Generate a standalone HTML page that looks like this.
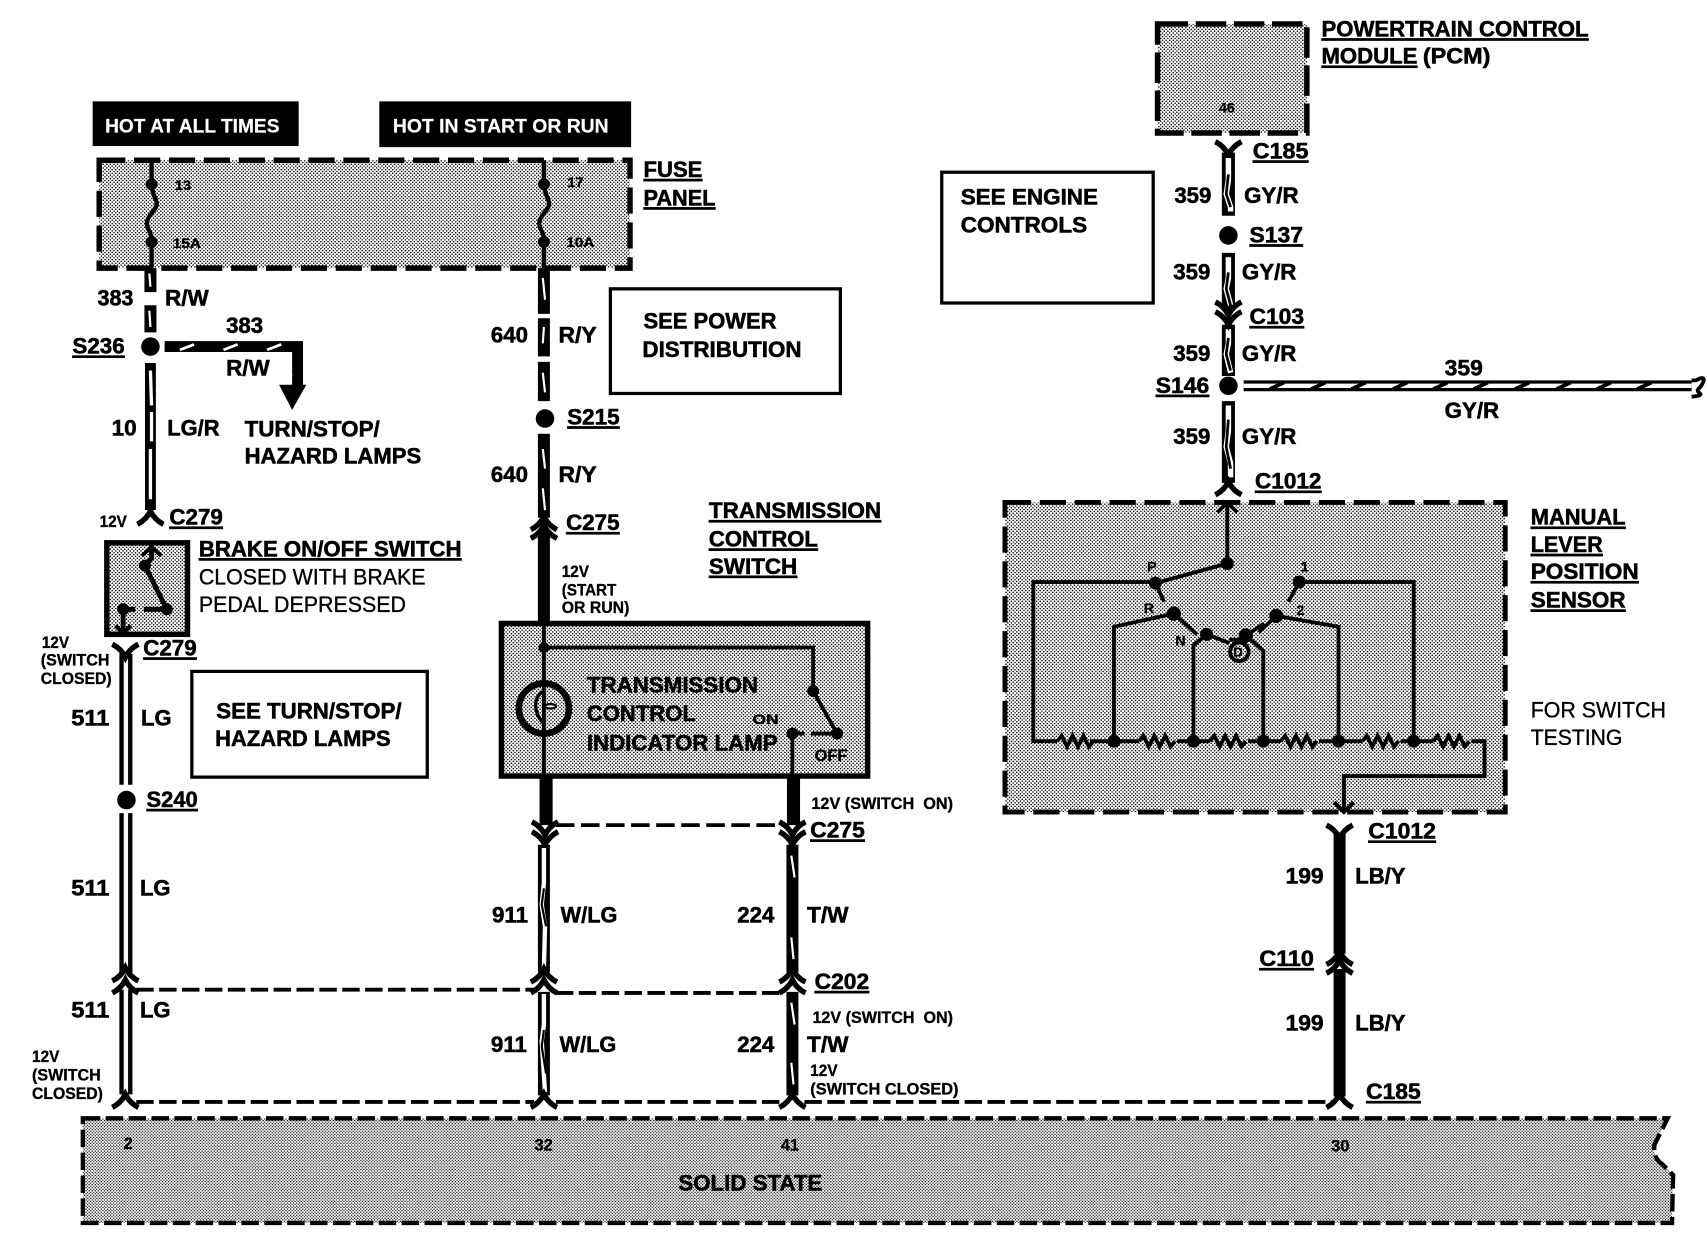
<!DOCTYPE html>
<html><head><meta charset="utf-8"><style>
html,body{margin:0;padding:0;background:#fff}
svg{display:block}
text{font-family:"Liberation Sans",sans-serif;font-weight:bold;fill:#000;stroke:#000;stroke-width:.5;font-size:20px}
.s{font-size:15px;stroke-width:.3}
.t{font-size:13px;stroke-width:.3}
.u{text-decoration:underline}
.w{fill:#fff;stroke:#fff;stroke-width:.2}
.k{fill:none;stroke:#000;stroke-linejoin:miter}
.wh{fill:none;stroke:#fff}
</style></head><body>
<svg xmlns="http://www.w3.org/2000/svg" width="1708" height="1248" viewBox="0 0 1567 1145">
<defs>
<pattern id="h" patternUnits="userSpaceOnUse" width="3.3" height="3.3"><rect width="3.3" height="3.3" fill="#fff"/><rect width="1.25" height="1.25" fill="#000"/><rect x="1.65" y="1.65" width="1.25" height="1.25" fill="#000"/></pattern>
<pattern id="h2" patternUnits="userSpaceOnUse" width="2.8" height="2.8"><rect width="2.8" height="2.8" fill="#fff"/><rect width="1.15" height="1.05" fill="#000"/><rect x="1.4" y="1.4" width="1.15" height="1.05" fill="#000"/></pattern>
<path id="zz" d="M0 0l4 -5l5 10l5 -10l5 10l5 -10l5 10l4 -5" fill="none" stroke="#000" stroke-width="3.5"/>
<path id="fd" d="M-12 -7Q-4 -3 0 5Q4 -3 12 -7" fill="none" stroke="#000" stroke-width="5"/>
<path id="fu" d="M-12 7Q-4 3 0 -5Q4 3 12 7" fill="none" stroke="#000" stroke-width="5"/>
</defs>
<rect width="1567" height="1145" fill="#fff"/>

<!-- shaded boxes -->
<rect x="91" y="147" width="487" height="99" fill="url(#h)"/>
<rect x="98" y="498" width="74" height="84" fill="url(#h)"/>
<rect x="460" y="572" width="336" height="140" fill="url(#h)"/>
<rect x="1062" y="22" width="137" height="100" fill="url(#h)"/>
<rect x="922" y="461" width="459" height="284" fill="url(#h)"/>
<path d="M76 1026H1530L1518 1050Q1516 1062 1525 1068L1535 1078L1534 1122H76Z" fill="url(#h2)"/>

<!-- borders -->
<rect x="91" y="147" width="487" height="99" class="k" stroke-width="5" stroke-dasharray="24 8"/>
<rect x="98" y="498" width="74" height="84" class="k" stroke-width="5"/>
<rect x="460" y="572" width="336" height="140" class="k" stroke-width="5"/>
<rect x="1062" y="22" width="137" height="100" class="k" stroke-width="5" stroke-dasharray="28 7"/>
<rect x="922" y="461" width="459" height="284" class="k" stroke-width="4.5" stroke-dasharray="24 8"/>
<path d="M76 1026H1530L1518 1050Q1516 1062 1525 1068L1535 1078L1534 1122H76Z" class="k" stroke-width="4" stroke-dasharray="16 5"/>
<rect x="176" y="616" width="216" height="97" class="k" stroke-width="3"/>
<rect x="560" y="265" width="211" height="96" class="k" stroke-width="3"/>
<rect x="864" y="158" width="194" height="120" class="k" stroke-width="3"/>
<rect x="85" y="93" width="189" height="41" fill="#000"/>
<rect x="348" y="93" width="231" height="42" fill="#000"/>

<!-- fuses -->
<path d="M139 147V168M139 222V246M139 168C139 180 146 184 143 190C138 198 132 202 136 210C138 214 139 216 139 222" class="k" stroke-width="4"/>
<path d="M499 147V168M499 222V246M499 168C499 180 506 184 503 190C498 198 492 202 496 210C498 214 499 216 499 222" class="k" stroke-width="4"/>
<circle cx="139" cy="169" r="5.5"/><circle cx="139" cy="222" r="5.5"/><circle cx="499" cy="169" r="5.5"/><circle cx="499" cy="222" r="5.5"/>

<!-- left column wires -->
<path d="M138 246V268M138 280V305" class="k" stroke-width="11"/>
<path d="M137 251L138 263M137 285L138 300" class="wh" stroke-width="2"/>
<circle cx="138" cy="318" r="8.5"/>
<path d="M151 318H273V355" class="k" stroke-width="10"/>
<path d="M165 321L178 316M205 321L218 316M245 321L258 316M264 328L267 345" class="wh" stroke-width="2.5"/>
<path d="M256 353H281L268 376Z"/>
<path d="M138 333V468" class="k" stroke-width="10"/>
<path d="M138 340L139 372M139 378V405M138 412V458" class="wh" stroke-width="3"/>
<use href="#fu" x="138" y="474"/>
<!-- brake switch internals -->
<path d="M139 500V512L133 519L153 559M113 559H124M132 559H153M113 559V578" class="k" stroke-width="4.5"/>
<path d="M130 510L139 502L148 510M106 574L113 581L120 574" class="k" stroke-width="3.5"/>
<circle cx="133" cy="519" r="5.5"/><circle cx="153" cy="559" r="5.5"/><circle cx="113" cy="559" r="5.5"/>

<use href="#fd" x="115" y="598"/>
<path d="M111.5 600V720M119.5 600V720M111.5 746V893M119.5 746V893M111.5 908V1004M119.5 908V1004" class="k" stroke-width="4"/>
<circle cx="116" cy="734" r="8.5"/>
<use href="#fu" x="115" y="893"/><use href="#fu" x="115" y="904"/>
<use href="#fu" x="115" y="1009"/>

<!-- middle wire -->
<path d="M499 246V288M499 292V327M499 332V368" class="k" stroke-width="11"/>
<path d="M498 255L500 275M499 300L498 315M498 342L500 360" class="wh" stroke-width="2"/>
<circle cx="500" cy="384" r="8.5"/>
<path d="M499 398V475" class="k" stroke-width="11"/>
<path d="M498 412L500 430M498 448L500 468" class="wh" stroke-width="2"/>
<use href="#fu" x="499" y="479"/><use href="#fu" x="499" y="487"/>
<path d="M499 486V572" class="k" stroke-width="11"/>

<!-- lamp box internals -->
<path d="M499 572V712M499 594H746V634M746 634L768 673M727 673H738M744 673H768M727 673V712" class="k" stroke-width="3.5"/>
<circle cx="499" cy="594" r="5"/><circle cx="746" cy="634" r="5.5"/><circle cx="768" cy="673" r="5.5"/><circle cx="727" cy="673" r="5.5"/>
<circle cx="499" cy="650" r="23" fill="none" stroke="#000" stroke-width="6"/>
<path d="M499 634C488 640 490 655 499 664" class="k" stroke-width="3"/>
<ellipse cx="505" cy="648" rx="5" ry="2" fill="#fff" stroke="#000" stroke-width="2"/>

<path d="M501 712V757M728 712V757" class="k" stroke-width="12"/>
<path d="M510 757H722" class="k" stroke-width="3.5" stroke-dasharray="17 6"/>
<use href="#fd" x="500" y="761"/><use href="#fd" x="500" y="770"/>
<use href="#fd" x="727" y="761"/><use href="#fd" x="727" y="770"/>
<path d="M499 775V892M499 910V1005" class="k" stroke-width="11"/>
<path d="M499 778V810L497 830L500 850L499 888M499 912V940L497 955L500 1002" class="wh" stroke-width="4"/>
<path d="M499 815L497 830L501 850M499 945L497 960L501 985" class="k" stroke-width="2"/>
<path d="M727 775V892M727 910V1005" class="k" stroke-width="11"/>
<path d="M726 785L729 805M726 860L728 880M726 920L729 940M726 975L728 995" class="wh" stroke-width="2"/>
<use href="#fu" x="499" y="894"/><use href="#fu" x="499" y="904"/>
<use href="#fu" x="727" y="894"/><use href="#fu" x="727" y="904"/>
<use href="#fu" x="499" y="1009"/><use href="#fu" x="727" y="1009"/>
<path d="M125 908H490M510 911H716M125 1011H490M510 1011H716M738 1011H1222" class="k" stroke-width="3.5" stroke-dasharray="16 5"/>

<!-- right top wire -->
<use href="#fd" x="1127" y="137"/>
<path d="M1127 140V198M1127 232V285M1127 298V345M1127 368V443" class="k" stroke-width="12"/>
<path d="M1127 145V165L1125 178L1129 190V194M1127 236V255L1125 265L1129 280M1127 302V315L1125 325L1129 342M1127 372V395L1125 410L1129 425V438" class="wh" stroke-width="5"/>
<path d="M1127 160L1125 178L1129 190M1127 250L1125 265L1129 280M1127 310L1125 325L1129 340M1127 385L1125 410L1129 430" class="k" stroke-width="2.5"/>
<circle cx="1127" cy="216" r="8.5"/>
<circle cx="1127" cy="354" r="8.5"/>
<use href="#fd" x="1127" y="284"/><use href="#fd" x="1127" y="293"/>
<use href="#fu" x="1127" y="447"/>
<path d="M1141 354H1552" class="k" stroke-width="10"/>
<path d="M1141 354H1552" class="wh" stroke-width="4"/>
<path d="M1165 357L1178 351M1203 357L1216 351M1240 357L1253 351M1278 357L1291 351M1315 357L1328 351M1352 357L1365 351M1390 357L1403 351M1428 357L1441 351M1465 357L1478 351M1502 357L1515 351" class="k" stroke-width="3.5"/>
<path d="M1552 349H1556C1568 342 1562 354 1558 357C1555 361 1568 362 1552 364" class="k" stroke-width="3.5"/>

<!-- sensor internals -->
<path d="M1126 461V517L1060 535M1060 534H948V680H970M1000 680H1045M1080 680H1110M1145 680H1175M1210 680H1250M1285 680H1315M1350 680H1362V712H1233V745" class="k" stroke-width="3.5"/>
<path d="M1117 470L1126 461L1135 470M1224 736L1233 745L1242 736" class="k" stroke-width="3.5"/>
<use href="#zz" x="970" y="680"/><use href="#zz" x="1045" y="680" /><use href="#zz" x="1110" y="680"/><use href="#zz" x="1175" y="680"/><use href="#zz" x="1250" y="680"/><use href="#zz" x="1315" y="680"/>
<path d="M1077 563L1022 575V680M1107 582L1095 592V680M1143 583L1159 597V680M1171 565L1228 575V680M1192 534H1297V680" class="k" stroke-width="3.5"/>
<path d="M1060 535L1068 552M1077 563L1098 582M1107 582L1128 590M1143 583L1160 572M1171 565L1155 580M1192 534L1182 552M1128 587H1143" class="k" stroke-width="3.5"/>
<circle cx="1060" cy="535" r="6"/><circle cx="1126" cy="517" r="6"/><circle cx="1077" cy="563" r="6.5"/><circle cx="1107" cy="582" r="6"/><circle cx="1143" cy="583" r="6.5"/><circle cx="1171" cy="565" r="6.5"/><circle cx="1192" cy="534" r="6"/>
<circle cx="1022" cy="680" r="6"/><circle cx="1095" cy="680" r="6"/><circle cx="1159" cy="680" r="6"/><circle cx="1228" cy="680" r="6"/><circle cx="1297" cy="680" r="6"/>
<circle cx="1137" cy="598" r="8.5" fill="none" stroke="#000" stroke-width="3.5"/>

<!-- right lower wire -->
<use href="#fd" x="1229" y="764"/>
<path d="M1229 764V875M1229 889V1006" class="k" stroke-width="11"/>
<use href="#fu" x="1229" y="878"/><use href="#fu" x="1229" y="886"/>
<use href="#fu" x="1229" y="1009"/>

<!-- labels -->
<g transform="translate(-0.6,-0.6)">
<text class="w" x="97" y="122" textLength="160" lengthAdjust="spacingAndGlyphs" style="font-size:18px">HOT AT ALL TIMES</text>
<text class="w" x="361" y="122" textLength="198" lengthAdjust="spacingAndGlyphs" style="font-size:18px">HOT IN START OR RUN</text>
<text class="t" x="161" y="175" textLength="15" lengthAdjust="spacingAndGlyphs">13</text>
<text class="t" x="159" y="228" textLength="26" lengthAdjust="spacingAndGlyphs">15A</text>
<text class="t" x="521" y="172" textLength="15" lengthAdjust="spacingAndGlyphs">17</text>
<text class="t" x="520" y="227" textLength="26" lengthAdjust="spacingAndGlyphs">10A</text>
<text class="u" x="591" y="163" textLength="54" lengthAdjust="spacingAndGlyphs">FUSE</text>
<text class="u" x="591" y="189" textLength="66" lengthAdjust="spacingAndGlyphs">PANEL</text>
<text x="90" y="281" textLength="33" lengthAdjust="spacingAndGlyphs">383</text>
<text x="152" y="281" textLength="40" lengthAdjust="spacingAndGlyphs">R/W</text>
<text class="u" x="67" y="325" textLength="48" lengthAdjust="spacingAndGlyphs">S236</text>
<text x="208" y="306" textLength="34" lengthAdjust="spacingAndGlyphs">383</text>
<text x="208" y="345" textLength="40" lengthAdjust="spacingAndGlyphs">R/W</text>
<text x="103" y="400" textLength="23" lengthAdjust="spacingAndGlyphs">10</text>
<text x="154" y="400" textLength="48" lengthAdjust="spacingAndGlyphs">LG/R</text>
<text x="225" y="401" textLength="124" lengthAdjust="spacingAndGlyphs">TURN/STOP/</text>
<text x="225" y="426" textLength="162" lengthAdjust="spacingAndGlyphs">HAZARD LAMPS</text>
<text class="s" x="92" y="484" textLength="25" lengthAdjust="spacingAndGlyphs">12V</text>
<text class="u" x="156" y="482" textLength="49" lengthAdjust="spacingAndGlyphs">C279</text>
<text class="u" x="183" y="511" textLength="241" lengthAdjust="spacingAndGlyphs">BRAKE ON/OFF SWITCH</text>
<text x="183" y="537" textLength="208" lengthAdjust="spacingAndGlyphs" style="stroke-width:.3;font-weight:normal">CLOSED WITH BRAKE</text>
<text x="183" y="562" textLength="190" lengthAdjust="spacingAndGlyphs" style="stroke-width:.3;font-weight:normal">PEDAL DEPRESSED</text>
<text class="s" x="39" y="595" textLength="25" lengthAdjust="spacingAndGlyphs">12V</text>
<text class="s" x="38" y="611" textLength="63" lengthAdjust="spacingAndGlyphs">(SWITCH</text>
<text class="s" x="38" y="628" textLength="65" lengthAdjust="spacingAndGlyphs">CLOSED)</text>
<text class="u" x="132" y="602" textLength="49" lengthAdjust="spacingAndGlyphs">C279</text>
<text x="66" y="666" textLength="35" lengthAdjust="spacingAndGlyphs">511</text>
<text x="130" y="666" textLength="28" lengthAdjust="spacingAndGlyphs">LG</text>
<text class="u" x="135" y="741" textLength="47" lengthAdjust="spacingAndGlyphs">S240</text>
<text x="66" y="822" textLength="35" lengthAdjust="spacingAndGlyphs">511</text>
<text x="129" y="822" textLength="28" lengthAdjust="spacingAndGlyphs">LG</text>
<text x="66" y="934" textLength="35" lengthAdjust="spacingAndGlyphs">511</text>
<text x="129" y="934" textLength="28" lengthAdjust="spacingAndGlyphs">LG</text>
<text class="s" x="30" y="975" textLength="25" lengthAdjust="spacingAndGlyphs">12V</text>
<text class="s" x="30" y="992" textLength="63" lengthAdjust="spacingAndGlyphs">(SWITCH</text>
<text class="s" x="30" y="1009" textLength="65" lengthAdjust="spacingAndGlyphs">CLOSED)</text>
<text x="199" y="660" textLength="170" lengthAdjust="spacingAndGlyphs">SEE TURN/STOP/</text>
<text x="198" y="685" textLength="161" lengthAdjust="spacingAndGlyphs">HAZARD LAMPS</text>
<text x="451" y="315" textLength="34" lengthAdjust="spacingAndGlyphs">640</text>
<text x="513" y="315" textLength="35" lengthAdjust="spacingAndGlyphs">R/Y</text>
<text class="u" x="521" y="390" textLength="48" lengthAdjust="spacingAndGlyphs">S215</text>
<text x="451" y="443" textLength="34" lengthAdjust="spacingAndGlyphs">640</text>
<text x="513" y="443" textLength="35" lengthAdjust="spacingAndGlyphs">R/Y</text>
<text class="u" x="520" y="487" textLength="49" lengthAdjust="spacingAndGlyphs">C275</text>
<text class="s" x="516" y="530" textLength="25" lengthAdjust="spacingAndGlyphs">12V</text>
<text class="s" x="516" y="547" textLength="50" lengthAdjust="spacingAndGlyphs">(START</text>
<text class="s" x="516" y="563" textLength="62" lengthAdjust="spacingAndGlyphs">OR RUN)</text>
<text x="591" y="302" textLength="122" lengthAdjust="spacingAndGlyphs">SEE POWER</text>
<text x="590" y="328" textLength="146" lengthAdjust="spacingAndGlyphs">DISTRIBUTION</text>
<text class="u" x="651" y="476" textLength="158" lengthAdjust="spacingAndGlyphs">TRANSMISSION</text>
<text class="u" x="651" y="502" textLength="100" lengthAdjust="spacingAndGlyphs">CONTROL</text>
<text class="u" x="651" y="527" textLength="81" lengthAdjust="spacingAndGlyphs">SWITCH</text>
<text x="539" y="636" textLength="157" lengthAdjust="spacingAndGlyphs">TRANSMISSION</text>
<text x="539" y="662" textLength="100" lengthAdjust="spacingAndGlyphs">CONTROL</text>
<text x="539" y="689" textLength="175" lengthAdjust="spacingAndGlyphs">INDICATOR LAMP</text>
<text class="t" x="691" y="665" textLength="24" lengthAdjust="spacingAndGlyphs">ON</text>
<text class="s" x="748" y="699" textLength="30" lengthAdjust="spacingAndGlyphs">OFF</text>
<text class="s" x="745" y="743" textLength="130" lengthAdjust="spacingAndGlyphs" xml:space="preserve">12V (SWITCH  ON)</text>
<text class="u" x="744" y="769" textLength="50" lengthAdjust="spacingAndGlyphs">C275</text>
<text x="452" y="847" textLength="33" lengthAdjust="spacingAndGlyphs">911</text>
<text x="515" y="847" textLength="52" lengthAdjust="spacingAndGlyphs">W/LG</text>
<text x="677" y="847" textLength="34" lengthAdjust="spacingAndGlyphs">224</text>
<text x="741" y="847" textLength="38" lengthAdjust="spacingAndGlyphs">T/W</text>
<text class="u" x="748" y="908" textLength="50" lengthAdjust="spacingAndGlyphs">C202</text>
<text class="s" x="746" y="939" textLength="129" lengthAdjust="spacingAndGlyphs" xml:space="preserve">12V (SWITCH  ON)</text>
<text x="451" y="966" textLength="33" lengthAdjust="spacingAndGlyphs">911</text>
<text x="514" y="966" textLength="52" lengthAdjust="spacingAndGlyphs">W/LG</text>
<text x="677" y="966" textLength="34" lengthAdjust="spacingAndGlyphs">224</text>
<text x="741" y="966" textLength="38" lengthAdjust="spacingAndGlyphs">T/W</text>
<text class="s" x="744" y="988" textLength="25" lengthAdjust="spacingAndGlyphs">12V</text>
<text class="s" x="744" y="1005" textLength="136" lengthAdjust="spacingAndGlyphs">(SWITCH CLOSED)</text>
<text class="s" x="114" y="1055">2</text>
<text class="s" x="491" y="1056">32</text>
<text class="s" x="717" y="1056">41</text>
<text class="s" x="1222" y="1057">30</text>
<text x="623" y="1093" textLength="132" lengthAdjust="spacingAndGlyphs">SOLID STATE</text>
<text class="u" x="1254" y="1009" textLength="50" lengthAdjust="spacingAndGlyphs">C185</text>
<text class="u" x="1213" y="34" textLength="245" lengthAdjust="spacingAndGlyphs">POWERTRAIN CONTROL</text>
<text class="u" x="1213" y="59" textLength="88" lengthAdjust="spacingAndGlyphs">MODULE</text>
<text x="1306" y="59" textLength="62" lengthAdjust="spacingAndGlyphs">(PCM)</text>
<text class="t" x="1119" y="104">46</text>
<text class="u" x="1150" y="146" textLength="51" lengthAdjust="spacingAndGlyphs">C185</text>
<text x="1078" y="187" textLength="34" lengthAdjust="spacingAndGlyphs">359</text>
<text x="1142" y="187" textLength="50" lengthAdjust="spacingAndGlyphs">GY/R</text>
<text class="u" x="1147" y="223" textLength="49" lengthAdjust="spacingAndGlyphs">S137</text>
<text x="1077" y="257" textLength="34" lengthAdjust="spacingAndGlyphs">359</text>
<text x="1140" y="257" textLength="50" lengthAdjust="spacingAndGlyphs">GY/R</text>
<text class="u" x="1147" y="298" textLength="50" lengthAdjust="spacingAndGlyphs">C103</text>
<text x="1077" y="332" textLength="34" lengthAdjust="spacingAndGlyphs">359</text>
<text x="1140" y="332" textLength="50" lengthAdjust="spacingAndGlyphs">GY/R</text>
<text class="u" x="1061" y="361" textLength="49" lengthAdjust="spacingAndGlyphs">S146</text>
<text x="1326" y="345" textLength="35" lengthAdjust="spacingAndGlyphs">359</text>
<text x="1326" y="384" textLength="50" lengthAdjust="spacingAndGlyphs">GY/R</text>
<text x="1077" y="408" textLength="34" lengthAdjust="spacingAndGlyphs">359</text>
<text x="1140" y="408" textLength="50" lengthAdjust="spacingAndGlyphs">GY/R</text>
<text class="u" x="1152" y="449" textLength="61" lengthAdjust="spacingAndGlyphs">C1012</text>
<text x="882" y="188" textLength="126" lengthAdjust="spacingAndGlyphs">SEE ENGINE</text>
<text x="882" y="214" textLength="116" lengthAdjust="spacingAndGlyphs">CONTROLS</text>
<text class="t" x="1053" y="525">P</text>
<text class="t" x="1050" y="563">R</text>
<text class="t" x="1079" y="593">N</text>
<text class="t" x="1194" y="525">1</text>
<text class="t" x="1190" y="565">2</text>
<text class="t" x="1132" y="603" style="font-size:12px">D</text>
<text class="u" x="1405" y="482" textLength="87" lengthAdjust="spacingAndGlyphs">MANUAL</text>
<text class="u" x="1405" y="507" textLength="66" lengthAdjust="spacingAndGlyphs">LEVER</text>
<text class="u" x="1405" y="532" textLength="99" lengthAdjust="spacingAndGlyphs">POSITION</text>
<text class="u" x="1405" y="558" textLength="87" lengthAdjust="spacingAndGlyphs">SENSOR</text>
<text x="1405" y="659" textLength="124" lengthAdjust="spacingAndGlyphs" style="stroke-width:.3;font-weight:normal">FOR SWITCH</text>
<text x="1405" y="684" textLength="84" lengthAdjust="spacingAndGlyphs" style="stroke-width:.3;font-weight:normal">TESTING</text>
<text class="u" x="1256" y="770" textLength="62" lengthAdjust="spacingAndGlyphs">C1012</text>
<text x="1180" y="811" textLength="35" lengthAdjust="spacingAndGlyphs">199</text>
<text x="1244" y="811" textLength="46" lengthAdjust="spacingAndGlyphs">LB/Y</text>
<text class="u" x="1156" y="887" textLength="50" lengthAdjust="spacingAndGlyphs">C110</text>
<text x="1180" y="946" textLength="35" lengthAdjust="spacingAndGlyphs">199</text>
<text x="1244" y="946" textLength="46" lengthAdjust="spacingAndGlyphs">LB/Y</text>
</g>
</svg>
</body></html>
